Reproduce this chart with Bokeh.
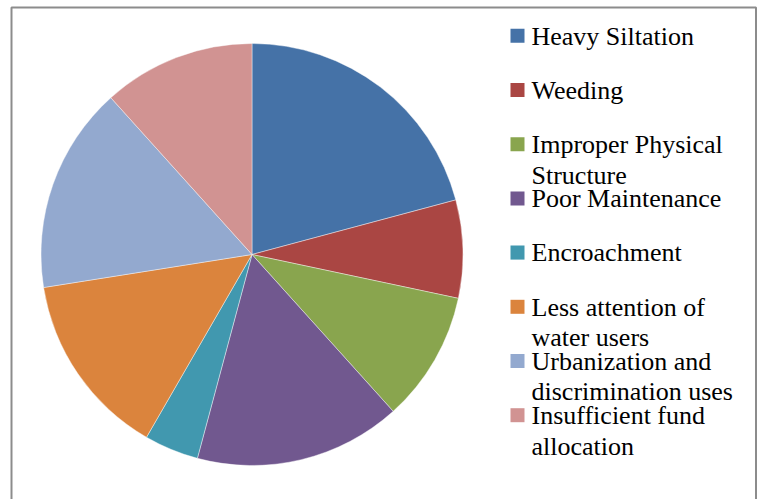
import math

from bokeh.core.properties import value
from bokeh.embed import file_html
from bokeh.models import ColumnDataSource, Range1d
from bokeh.plotting import figure
from bokeh.resources import INLINE

# Survey responses: causes of canal deterioration
categories = [
    "Heavy Siltation",
    "Weeding",
    "Improper Physical Structure",
    "Poor Maintenance",
    "Encroachment",
    "Less attention of water users",
    "Urbanization and discrimination uses",
    "Insufficient fund allocation",
]
counts = [25, 9, 12, 19, 5, 17, 19, 14]

# Legend text as it wraps inside the legend column
legend_lines = [
    ["Heavy Siltation"],
    ["Weeding"],
    ["Improper Physical", "Structure"],
    ["Poor Maintenance"],
    ["Encroachment"],
    ["Less attention of", "water users"],
    ["Urbanization and", "discrimination uses"],
    ["Insufficient fund", "allocation"],
]

colors = ["#4572A7", "#AA4643", "#89A54E", "#71588F",
          "#4198AF", "#DB843D", "#93A9CF", "#D19392"]

W, H = 757, 499
FONT = "Liberation Serif"

p = figure(width=W, height=H, output_backend="svg", toolbar_location=None,
           x_range=Range1d(0, W), y_range=Range1d(0, H),
           min_border=0, outline_line_color=None)
p.axis.visible = False
p.grid.visible = False
p.background_fill_color = "white"
p.border_fill_color = "white"

# chart frame
p.quad(left=[11], right=[755.5], top=[H - 7], bottom=[-20],
       fill_color=None, line_color="#8c8c8c", line_width=2)

# pie: starts at 12 o'clock and runs clockwise
total = float(sum(counts))
starts, ends = [], []
acc = 0.0
for c in counts:
    starts.append(math.pi / 2 - 2 * math.pi * (acc + c) / total)
    ends.append(math.pi / 2 - 2 * math.pi * acc / total)
    acc += c

pie = ColumnDataSource(dict(cat=categories, count=counts, start=starts,
                            end=ends, color=colors))
cx, cy, r = 251.5, H - 254, 211
p.wedge(x=cx, y=cy, radius=r, start_angle="start", end_angle="end",
        fill_color="color", line_color="white", line_width=0.6,
        line_alpha=0.7, source=pie)

# legend drawn beside the pie (pixel offsets from the top edge)
first_row = 44.0
row_step = 54.2
line_step = 30.6
text_shift = 8.5          # baseline correction for the svg text renderer
sq_x, sq_size = 517, 14
text_x = 531

sq_xs, sq_ys = [], []
tx, ty, tt = [], [], []
for i, lines in enumerate(legend_lines):
    base = first_row + i * row_step
    sq_xs.append(sq_x)
    sq_ys.append(H - (base - 8.7))
    for j, line in enumerate(lines):
        tx.append(text_x)
        ty.append(H - (base - text_shift + j * line_step))
        tt.append(line)

p.rect(x=sq_xs, y=sq_ys, width=sq_size, height=sq_size,
       fill_color=colors, line_color=None)
p.text(x=tx, y=ty, text=tt, text_font=value(FONT), text_font_size="26px",
       text_color="black", text_baseline="alphabetic", text_align="left")

open("out.html", "w").write(file_html(p, INLINE))
